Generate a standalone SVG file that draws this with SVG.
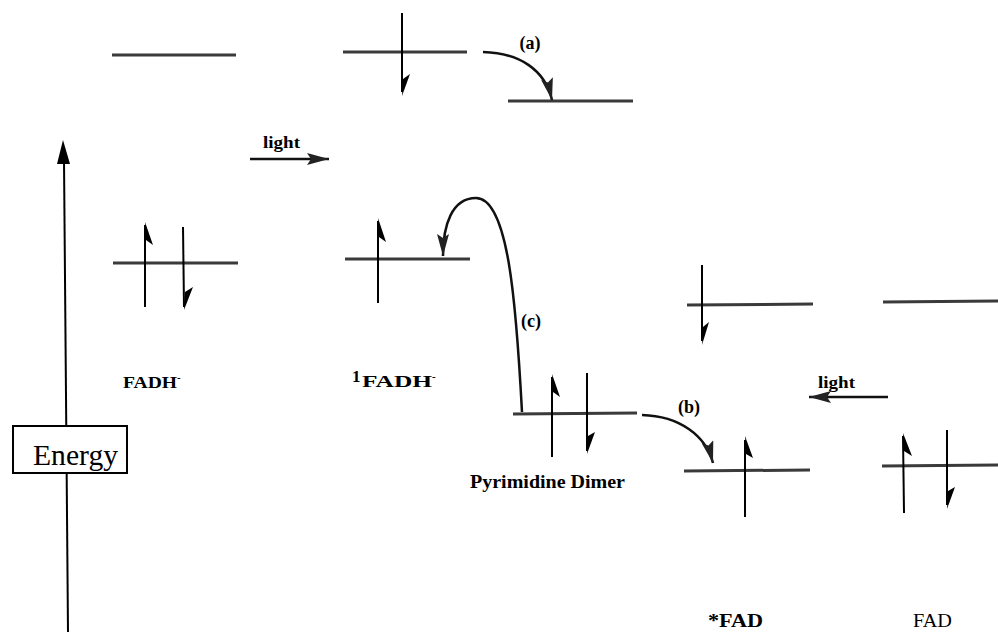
<svg xmlns="http://www.w3.org/2000/svg" width="998" height="632" viewBox="0 0 998 632">
<defs>
<marker id="ah" markerUnits="userSpaceOnUse" markerWidth="24" markerHeight="14" refX="22" refY="6" orient="auto">
<path d="M0,0 L22,6 L0,12 L4,6 z" fill="#222"/>
</marker>
<style>
.lvl{stroke:#3a3a3a;stroke-width:3;fill:none}
.sp{stroke:#000;stroke-width:2;fill:none}
.hd{fill:#000;stroke:none}
.cv{stroke:#111;stroke-width:2.5;fill:none}
.lb{font-family:"Liberation Serif","Times New Roman",serif;font-weight:bold;fill:#000}
</style>
</defs>
<rect width="998" height="632" fill="#fff"/>

<g id="energy-axis">
<line x1="64" y1="160" x2="68" y2="632" stroke="#000" stroke-width="2"/>
<polygon points="63,140 57,164 70,164" fill="#000"/>
<rect x="13" y="426" width="114" height="47" fill="#fff" stroke="#000" stroke-width="2"/>
<text x="33" y="465" font-family="Liberation Serif, serif" font-size="30" textLength="85" lengthAdjust="spacingAndGlyphs" fill="#000">Energy</text>
</g>

<g id="fadh">
<line class="lvl" x1="112" y1="55" x2="236" y2="55"/>
<line class="lvl" x1="113" y1="263" x2="238" y2="263"/>
<line class="sp" x1="145" y1="225" x2="145" y2="307"/>
<polygon class="hd" points="145,222 153,245 146,240"/>
<line class="sp" x1="183" y1="227" x2="184" y2="307"/>
<polygon class="hd" points="184,310 193,287 185,292"/>
<text class="lb" x="123" y="388" font-size="17"><tspan textLength="54" lengthAdjust="spacingAndGlyphs">FADH</tspan><tspan dy="-7" font-size="11">-</tspan></text>
</g>

<g id="fadh1">
<line class="lvl" x1="343" y1="52" x2="467" y2="52"/>
<line class="sp" x1="402" y1="13" x2="402" y2="92"/>
<polygon class="hd" points="402,96 410,74 403,79"/>
<line class="lvl" x1="345" y1="259" x2="470" y2="259"/>
<line class="sp" x1="378" y1="221" x2="378" y2="303"/>
<polygon class="hd" points="378,218 386,242 379,237"/>
<text class="lb" x="352" y="382" font-size="17">1</text>
<text class="lb" x="362" y="387" font-size="16"><tspan textLength="70" lengthAdjust="spacingAndGlyphs">FADH</tspan><tspan dy="-7" font-size="11">-</tspan></text>
</g>

<g id="radical">
<line class="lvl" x1="508" y1="101" x2="633" y2="101"/>
</g>

<g id="dimer">
<line class="lvl" x1="513" y1="414" x2="637" y2="413"/>
<line class="sp" x1="552" y1="377" x2="552" y2="457"/>
<polygon class="hd" points="552,374 560,397 553,392"/>
<line class="sp" x1="587" y1="373" x2="587" y2="451"/>
<polygon class="hd" points="587,454 595,432 588,436"/>
<text class="lb" x="470" y="488" font-size="18" textLength="155" lengthAdjust="spacingAndGlyphs">Pyrimidine Dimer</text>
</g>

<g id="fad-star">
<line class="lvl" x1="687" y1="305" x2="813" y2="304"/>
<line class="sp" x1="702" y1="265" x2="702" y2="341"/>
<polygon class="hd" points="702,345 709,322 703,327"/>
<line class="lvl" x1="684" y1="471" x2="810" y2="470"/>
<line class="sp" x1="745" y1="440" x2="745" y2="517"/>
<polygon class="hd" points="745,436 753,458 746,454"/>
<text class="lb" x="708" y="627" font-size="19" textLength="55" lengthAdjust="spacingAndGlyphs">*FAD</text>
</g>

<g id="fad">
<line class="lvl" x1="883" y1="302" x2="998" y2="301"/>
<line class="lvl" x1="882" y1="466" x2="998" y2="465"/>
<line class="sp" x1="903" y1="436" x2="904" y2="513"/>
<polygon class="hd" points="903,433 912,456 904,451"/>
<line class="sp" x1="947" y1="430" x2="947" y2="505"/>
<polygon class="hd" points="947,509 955,487 948,491"/>
<text x="913" y="627" font-family="Liberation Serif, serif" font-size="19" textLength="39" lengthAdjust="spacingAndGlyphs" fill="#000">FAD</text>
</g>

<g id="connectors">
<line class="cv" x1="250" y1="159" x2="329" y2="159" marker-end="url(#ah)"/>
<text class="lb" x="263" y="148" font-size="17" textLength="37" lengthAdjust="spacingAndGlyphs">light</text>
<line class="cv" x1="888" y1="397" x2="809" y2="397" marker-end="url(#ah)"/>
<text class="lb" x="818" y="388" font-size="17" textLength="37" lengthAdjust="spacingAndGlyphs">light</text>
<path class="cv" d="M483,52 C520,53 545,70 552,100" marker-end="url(#ah)"/>
<text class="lb" x="530" y="49" text-anchor="middle" font-size="18" font-weight="normal">(a)</text>
<path class="cv" d="M642,415 C680,416 706,436 713,463" marker-end="url(#ah)"/>
<text class="lb" x="689" y="413" text-anchor="middle" font-size="18">(b)</text>
<path class="cv" d="M522,412 C516,300 508,198 476,198 C452,198 443,225 443,256" marker-end="url(#ah)"/>
<text class="lb" x="531" y="327" text-anchor="middle" font-size="18">(c)</text>
</g>
</svg>
